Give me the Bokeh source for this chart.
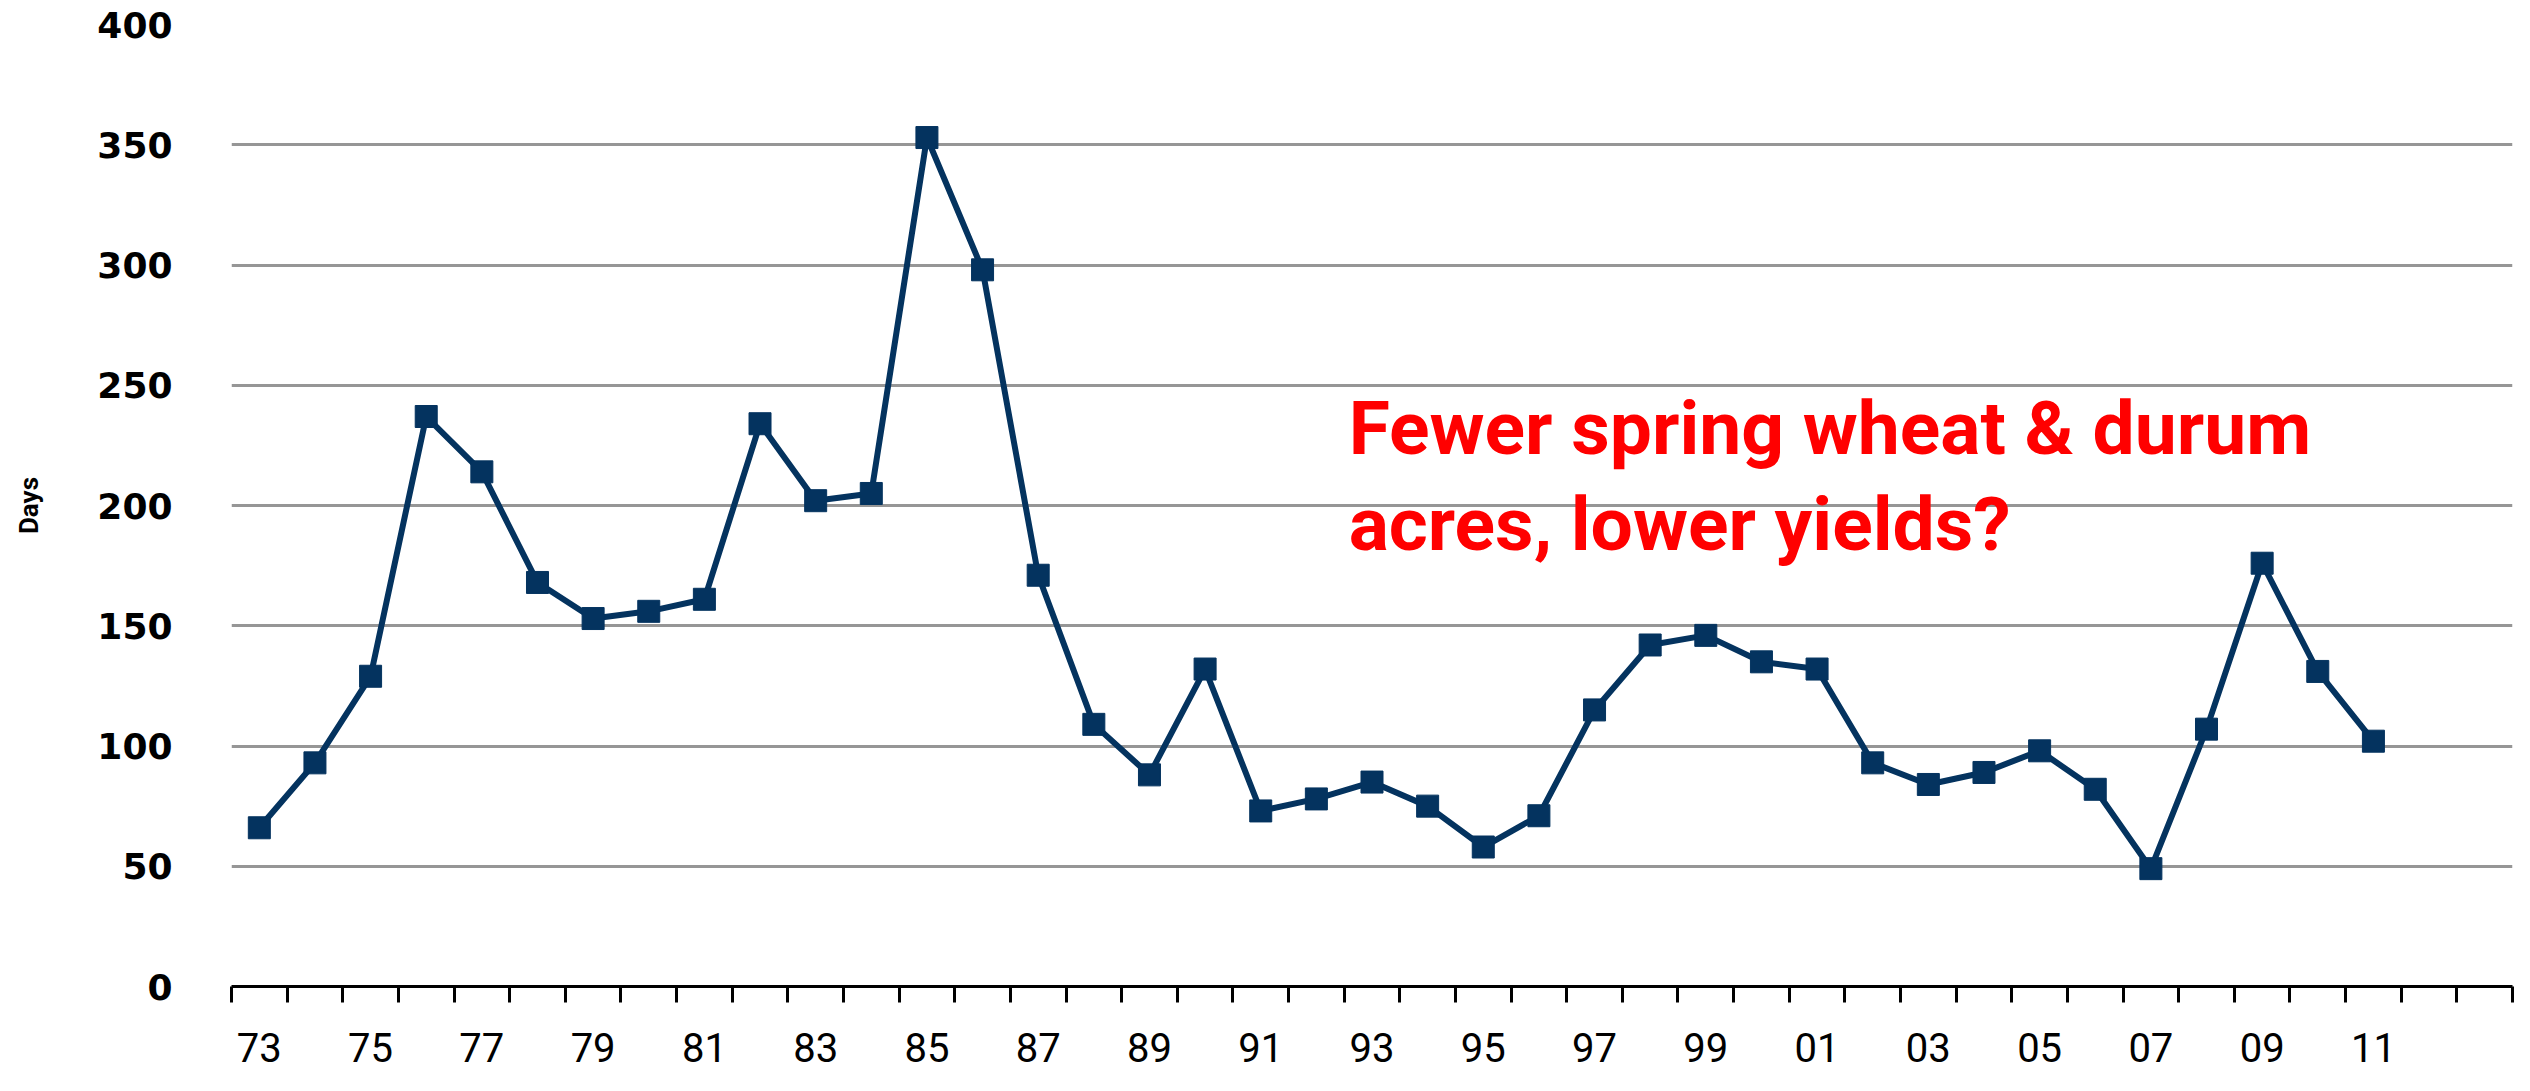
from bokeh.plotting import figure
from bokeh.models import Range1d, FixedTicker, Label
from bokeh.embed import file_html
from bokeh.resources import INLINE

# ---- data ----
years = list(range(1973, 2012))
days = [66, 93, 129, 237, 214, 168, 153, 156, 161, 234, 202, 205, 353, 298, 171,
        109, 88, 132, 73, 78, 85, 75, 58, 71, 115, 142, 146, 135, 132, 93, 84, 89,
        98, 82, 49, 107, 176, 131, 102]
axis_years = list(range(1973, 2014))          # category slots on the axis
label_years = list(range(1973, 2012, 2))      # labelled slots
y_ticks = [0, 50, 100, 150, 200, 250, 300, 350, 400]
note_lines = ["Fewer spring wheat & durum", "acres, lower yields?"]

first = axis_years[0]
xs = [y - first for y in years]

p = figure(width=2514, height=1075, output_backend="svg", toolbar_location=None,
           x_range=Range1d(-0.5, len(axis_years) - 0.5), y_range=Range1d(0, 400),
           min_border_left=231, min_border_right=2, min_border_top=24, min_border_bottom=89)
p.outline_line_color = None
p.background_fill_color = "white"
p.border_fill_color = "white"

# grid
p.xgrid.grid_line_color = None
p.ygrid.grid_line_color = "#969696"
p.ygrid.grid_line_width = 3
p.ygrid.ticker = FixedTicker(ticks=y_ticks)

# y axis
p.yaxis.ticker = FixedTicker(ticks=y_ticks)
p.yaxis.axis_line_color = None
p.yaxis.major_tick_line_color = None
p.yaxis.minor_tick_line_color = None
p.yaxis.major_label_text_font = "DejaVu Sans"
p.yaxis.major_label_text_font_style = "bold"
p.yaxis.major_label_text_font_size = "36px"
p.yaxis.major_label_text_color = "black"
p.yaxis.major_label_standoff = 53
p.yaxis.axis_label = "Days"
p.yaxis.axis_label_text_font = "Roboto"
p.yaxis.axis_label_text_font_style = "bold"
p.yaxis.axis_label_text_font_size = "26px"
p.yaxis.axis_label_text_color = "black"
p.yaxis.axis_label_standoff = 50

# x axis
x_major = [y - first for y in label_years]
x_minor = [i - 0.5 for i in range(len(axis_years) + 1)]
p.xaxis.ticker = FixedTicker(ticks=x_major, minor_ticks=x_minor)
p.xaxis.major_label_overrides = {y - first: "%02d" % (y % 100) for y in label_years}
p.xaxis.axis_line_color = "black"
p.xaxis.axis_line_width = 3
p.xaxis.major_tick_line_color = None
p.xaxis.major_tick_out = 0
p.xaxis.major_tick_in = 0
p.xaxis.minor_tick_line_color = "black"
p.xaxis.minor_tick_line_width = 3
p.xaxis.minor_tick_out = 16
p.xaxis.minor_tick_in = 0
p.xaxis.major_label_text_font = "Roboto"
p.xaxis.major_label_text_font_size = "40px"
p.xaxis.major_label_text_color = "black"
p.xaxis.major_label_standoff = 30

# series
navy = "#04335F"
p.line(xs, days, line_color=navy, line_width=6)
p.scatter(xs, days, marker="square", size=22, fill_color=navy, line_color=navy)

# annotation
for i, txt in enumerate(note_lines):
    p.add_layout(Label(x=19.58, y=232.3 - i * 40.2, text=txt, text_color="red",
                       text_font="Roboto", text_font_style="bold",
                       text_font_size="75px", text_baseline="alphabetic"))

open("out.html", "w").write(file_html(p, INLINE))
